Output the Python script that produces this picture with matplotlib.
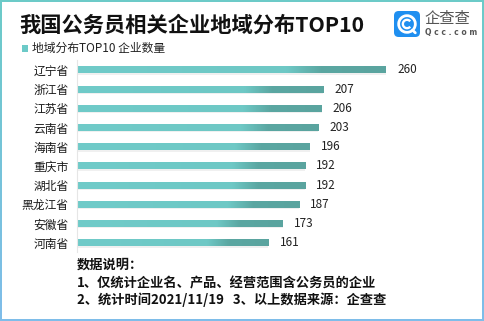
import numpy as np
import matplotlib
matplotlib.use("Agg")
import matplotlib.pyplot as plt
from matplotlib.patches import Rectangle, FancyBboxPatch, Arc
from matplotlib.colors import LinearSegmentedColormap

plt.rcParams['font.family'] = ['Noto Sans CJK SC', 'DejaVu Sans']

# ---- data ----
provinces = ["辽宁省", "浙江省", "江苏省", "云南省", "海南省", "重庆市", "湖北省", "黑龙江省", "安徽省", "河南省"]
counts = [260, 207, 206, 203, 196, 192, 192, 187, 173, 161]
title = "我国公务员相关企业地域分布TOP10"
legend_label = "地域分布TOP10 企业数量"
notes = ["数据说明：", "1、仅统计企业名、产品、经营范围含公务员的企业",
         "2、统计时间2021/11/19   3、以上数据来源：企查查"]

W, H = 485, 321
fig = plt.figure(figsize=(W / 100, H / 100), dpi=100)

def fx(px):
    return px / W

def fy(py):
    return 1 - py / H

# ---- border with vertical gradient ----
bg = fig.add_axes([0, 0, 1, 1], zorder=-10)
bg.set_axis_off()
grad = np.linspace(0, 1, 256).reshape(-1, 1)
border_cmap = LinearSegmentedColormap.from_list("b", ["#6ccbc8", "#7fbdea"])
bg.imshow(grad, aspect='auto', cmap=border_cmap, extent=[0, 1, 0, 1], origin='upper')
bg.add_patch(Rectangle((fx(2), 2 / H), 1 - fx(2) - fx(3), 1 - 4 / H, transform=bg.transAxes,
                       facecolor='white', edgecolor='none'))
bg.set_xlim(0, 1)
bg.set_ylim(0, 1)

# ---- title & legend ----
fig.text(fx(19), fy(25), title, fontsize=15.3, fontweight='bold', color='#111111', va='center', ha='left')
fig.text(fx(32), fy(48), legend_label, fontsize=8.5, color='#222222', va='center', ha='left')

# ---- logo ----
lg = fig.add_axes([fx(394), fy(37), fx(26), 26 / H], zorder=5)
lg.set_axis_off()
lg.set_xlim(0, 1)
lg.set_ylim(0, 1)
lg.add_patch(FancyBboxPatch((0, 0), 1, 1, boxstyle="round,pad=0,rounding_size=0.18",
                            facecolor='#1f8ff0', edgecolor='none', clip_on=False))
lg.add_patch(Arc((0.5, 0.5), 0.64, 0.64, theta1=-40, theta2=310, lw=2.0, color='white'))
lg.add_patch(Arc((0.5, 0.5), 0.32, 0.32, theta1=40, theta2=320, lw=1.7, color='white'))
lg.plot([0.71, 0.82], [0.27, 0.16], color='white', lw=2.0, solid_capstyle='round')
fig.text(fx(424), fy(19), "企查查", fontsize=11, color='#555555', va='center', ha='left')
fig.text(fx(425), fy(33), "Q c c . c o m", fontsize=5.5, color='#555555', va='center', ha='left',
         family='DejaVu Sans', fontweight='bold')

# ---- bar chart ----
ax_left = 77
px_per_unit = 309 / 260
xmax = 330
row_top = 60.4
row_h = 19.19
n = len(provinces)
ax = fig.add_axes([fx(ax_left), fy(row_top + n * row_h), fx(xmax * px_per_unit), n * row_h / H])
ax.patch.set_alpha(0)
y = np.arange(n)[::-1]
bars = ax.barh(y, counts, height=0.36, color='none', edgecolor='none')

bar_cmap = LinearSegmentedColormap.from_list(
    "g", [(0, '#70cbc9'), (0.68, '#6ec8c5'), (0.79, '#5ba7a2'), (1, '#5aa49f')])
gvals = np.linspace(0, 1, 256).reshape(1, -1)
for b in bars:
    x0, y0, w, h = b.get_x(), b.get_y(), b.get_width(), b.get_height()
    ax.add_patch(Rectangle((x0, y0 - 0.07), w, h, facecolor='#000000', alpha=0.06, edgecolor='none'))
    ax.imshow(gvals, aspect='auto', cmap=bar_cmap, extent=[x0, x0 + w, y0, y0 + h], zorder=2)
    ax.annotate(f"{int(w)}", xy=(x0 + w, y0 + h / 2), xytext=(8, 0), textcoords='offset points',
                ha='left', va='center', fontsize=8.5, color='#222222')
ax.set_xlim(0, xmax)
ax.set_ylim(-0.5, n - 0.5)
ax.set_yticks(y)
ax.set_yticklabels(provinces, fontsize=8.5, color='#1a1a1a')
ax.tick_params(axis='y', length=0, pad=6)
ax.set_xticks([])
for s in ['top', 'right', 'bottom']:
    ax.spines[s].set_visible(False)
ax.spines['left'].set_color('#e6e6e6')
ax.spines['left'].set_linewidth(0.8)

# ---- legend marker ----
fig.patches.append(Rectangle((fx(22), fy(51.5)), fx(6.5), 6.5 / H, transform=fig.transFigure,
                             facecolor='#6ccac8', edgecolor='none'))

# ---- notes ----
for line, py in zip(notes, [265, 283, 300]):
    fig.text(fx(77), fy(py), line, fontsize=9.5, fontweight='bold', color='#111111', va='center', ha='left')

fig.savefig("out.png", dpi=100)
